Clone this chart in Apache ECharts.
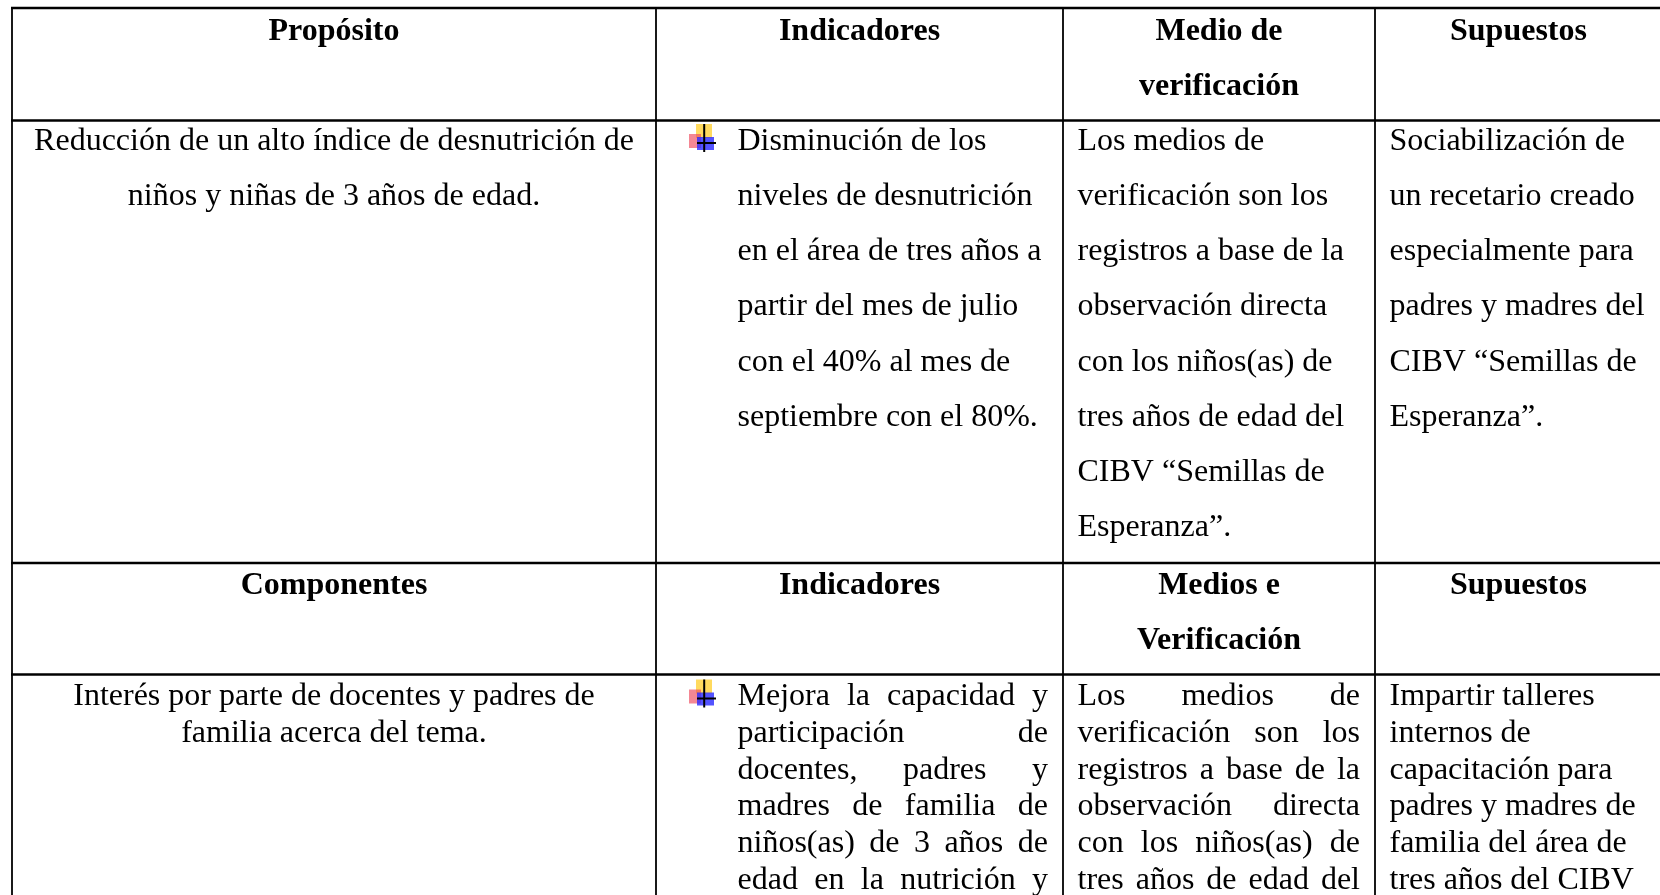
<!DOCTYPE html>
<html><head><meta charset="utf-8">
<script src="https://cdn.jsdelivr.net/npm/echarts@6/dist/echarts.min.js"></script>
<style>html,body{margin:0;padding:0;background:#fff}#chart{width:1660px;height:895px}</style>
</head><body><div id="chart"></div>
<script>
// ---- table content (text) ----
const header1 = [['Propósito'], ['Indicadores'], ['Medio de', 'verificación'], ['Supuestos']];
const purposeRow = [
  ['Reducción de un alto índice de desnutrición de', 'niños y niñas de 3 años de edad.'],
  ['Disminución de los', 'niveles de desnutrición', 'en el área de tres años a', 'partir del mes de julio', 'con el 40% al mes de', 'septiembre con el 80%.'],
  ['Los medios de', 'verificación son los', 'registros a base de la', 'observación directa', 'con los niños(as) de', 'tres años de edad del', 'CIBV “Semillas de', 'Esperanza”.'],
  ['Sociabilización de', 'un recetario creado', 'especialmente para', 'padres y madres del', 'CIBV “Semillas de', 'Esperanza”.']
];
const header2 = [['Componentes'], ['Indicadores'], ['Medios e', 'Verificación'], ['Supuestos']];
const componentRow = [
  ['Interés por parte de docentes y padres de', 'familia acerca del tema.'],
  ['Mejora la capacidad y', 'participación de', 'docentes, padres y', 'madres de familia de', 'niños(as) de 3 años de', 'edad en la nutrición y'],
  ['Los medios de', 'verificación son los', 'registros a base de la', 'observación directa', 'con los niños(as) de', 'tres años de edad del'],
  ['Impartir talleres', 'internos de', 'capacitación para', 'padres y madres de', 'familia del área de', 'tres años del CIBV']
];
const tableRows = [header1, purposeRow, header2, componentRow];

// ---- layout / style (kept apart from the content) ----
const COL_EDGES = [12, 656, 1063, 1375, 1662];
const ROW_EDGES = [8, 120.5, 563, 674.5, 1000];
const PAD_L = [15, 81.5, 14.5, 14.5];
const PAD_R = 15;
const FONT_SIZE = 32;
const FONT_FAMILY = '"Liberation Serif", "Times New Roman", serif';
const MID_SHIFT = 10.8; // baseline -> middle of em box
const ROW_STYLE = [
  { bold: true,  pitch: 55.25, base: 34.5, align: ['center', 'center', 'center', 'center'], bullet: [0,0,0,0] },
  { bold: false, pitch: 55.25, base: 31.5, align: ['center', 'left', 'left', 'left'], bullet: [0,1,0,0] },
  { bold: true,  pitch: 55.25, base: 33.5, align: ['center', 'center', 'center', 'center'], bullet: [0,0,0,0] },
  { bold: false, pitch: 36.75, base: 33,   align: ['center', 'justify', 'justify', 'left'], bullet: [0,1,0,0] }
];

const measureCtx = document.createElement('canvas').getContext('2d');
function fontStr(bold) { return (bold ? 'bold ' : '') + FONT_SIZE + 'px ' + FONT_FAMILY; }
function textW(t, bold) { measureCtx.font = fontStr(bold); return measureCtx.measureText(t).width; }

const cells = [];
tableRows.forEach((r, ri) => r.forEach((c, ci) => cells.push([ci, ri])));

const hLines = ROW_EDGES.slice(0, 4).map(y => [y, COL_EDGES[0] - 1, COL_EDGES[4] + 1]);
const vLines = COL_EDGES.map(x => [x, ROW_EDGES[0], ROW_EDGES[4]]);

function bulletEls(api, xLeft, baseY) {
  const p = (dx, dy) => api.coord([xLeft + dx, baseY + dy]);
  const rect = (x0, y0, x1, y1, fill) => {
    const a = p(x0, y0), b = p(x1, y1);
    return { type: 'rect', shape: { x: a[0], y: a[1], width: b[0] - a[0], height: b[1] - a[1] }, style: { fill } };
  };
  return [
    rect(40, -28, 56, -14, 'rgba(255,205,40,0.75)'),
    rect(33, -18, 45, -4, 'rgba(238,70,90,0.65)'),
    rect(41, -15, 58, -2, 'rgba(40,40,255,0.8)'),
    rect(47.2, -28, 49.2, 0, '#000'),
    rect(41, -10, 60, -8, '#000')
  ];
}

function renderCell(params, api) {
  const ci = api.value(0), ri = api.value(1);
  const st = ROW_STYLE[ri];
  const lines = tableRows[ri][ci];
  const x0 = COL_EDGES[ci], x1 = COL_EDGES[ci + 1];
  const top = ROW_EDGES[ri];
  const children = [];
  const align = st.align[ci];
  const font = fontStr(st.bold);
  lines.forEach((line, li) => {
    const base = top + st.base + li * st.pitch;
    const yMid = base - MID_SHIFT;
    if (align === 'center') {
      const p = api.coord([(x0 + x1) / 2, yMid]);
      children.push({ type: 'text', style: { text: line, x: p[0], y: p[1], font, fill: '#000', align: 'center', verticalAlign: 'middle' } });
    } else if (align === 'left') {
      const p = api.coord([x0 + PAD_L[ci], yMid]);
      children.push({ type: 'text', style: { text: line, x: p[0], y: p[1], font, fill: '#000', align: 'left', verticalAlign: 'middle' } });
    } else {
      const words = line.split(' ');
      const left = x0 + PAD_L[ci], right = x1 - PAD_R;
      const widths = words.map(w => textW(w, st.bold));
      const total = widths.reduce((a, b) => a + b, 0);
      const gap = words.length > 1 ? (right - left - total) / (words.length - 1) : 0;
      let cx = left;
      words.forEach((w, wi) => {
        const p = api.coord([cx, yMid]);
        children.push({ type: 'text', style: { text: w, x: p[0], y: p[1], font, fill: '#000', align: 'left', verticalAlign: 'middle' } });
        cx += widths[wi] + gap;
      });
    }
  });
  if (st.bullet[ci]) {
    bulletEls(api, x0, top + st.base).forEach(e => children.push(e));
  }
  return { type: 'group', children };
}

const chart = echarts.init(document.getElementById('chart'), null, { renderer: 'canvas' });
chart.setOption({
  backgroundColor: '#fff',
  animation: false,
  grid: { left: 0, right: 0, top: 0, bottom: 0 },
  xAxis: { type: 'value', min: 0, max: 1660, show: false },
  yAxis: { type: 'value', min: 0, max: 895, inverse: true, show: false },
  series: [
    {
      type: 'custom', coordinateSystem: 'cartesian2d', data: cells, clip: false,
      renderItem: renderCell, silent: true
    },
    {
      type: 'custom', coordinateSystem: 'cartesian2d', data: hLines, clip: false, silent: true,
      renderItem: (params, api) => {
        const a = api.coord([api.value(1), api.value(0)]), b = api.coord([api.value(2), api.value(0)]);
        return { type: 'line', shape: { x1: a[0], y1: a[1], x2: b[0], y2: b[1] }, style: { stroke: '#000', lineWidth: 2.5 } };
      }
    },
    {
      type: 'custom', coordinateSystem: 'cartesian2d', data: vLines, clip: false, silent: true,
      renderItem: (params, api) => {
        const a = api.coord([api.value(0), api.value(1)]), b = api.coord([api.value(0), api.value(2)]);
        return { type: 'line', shape: { x1: a[0], y1: a[1], x2: b[0], y2: b[1] }, style: { stroke: '#000', lineWidth: 1.8 } };
      }
    }
  ]
});
</script></body></html>
